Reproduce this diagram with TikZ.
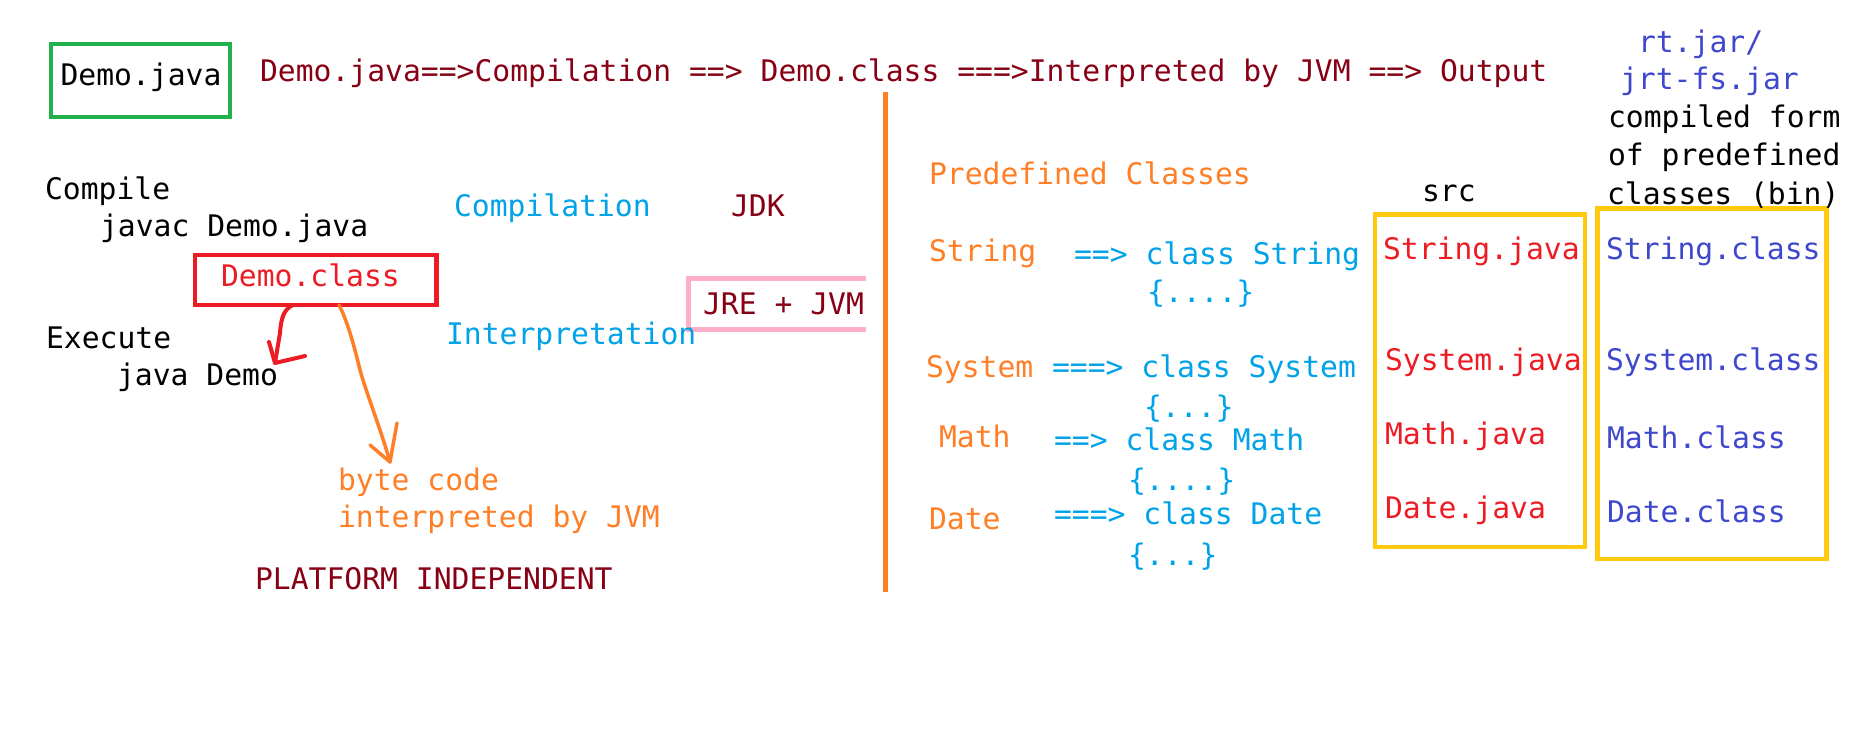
\documentclass[tikz,border=0pt]{standalone}
\usepackage{fontspec}
\setmonofont{DejaVu Sans Mono}
\usetikzlibrary{calc}
\definecolor{dred}{HTML}{880015}
\definecolor{lblue}{HTML}{00A2E8}
\definecolor{porange}{HTML}{FF7F27}
\definecolor{pred}{HTML}{ED1C24}
\definecolor{pviolet}{HTML}{3F48CC}
\definecolor{pgold}{HTML}{FFC90E}
\definecolor{ppink}{HTML}{FFAEC9}
\definecolor{pgreen}{HTML}{22B14C}
\begin{document}
\begin{tikzpicture}[x=1pt,y=-1pt,
  txt/.style={anchor=base west,inner sep=0pt,outer sep=0pt,font=\fontsize{29.7}{37}\selectfont\ttfamily},
  boxnode/.style={draw,inner sep=0pt,outer sep=0pt,line width=4.5pt},
  redpen/.style={draw=pred,line width=4pt,line cap=round,line join=round},
  orgpen/.style={draw=porange,line width=3.5pt,line cap=round,line join=round}]
\useasboundingbox[fill=white] (0,0) rectangle (1852,743);

% boxes
\node[boxnode,draw=pgreen,minimum width=179pt,minimum height=73pt] (djbox) at (140.5,80.5) {};
\node[boxnode,draw=pred,minimum width=241.5pt,minimum height=50pt] (dcbox) at (315.75,280) {};
\node[boxnode,draw=pgold,minimum width=210pt,minimum height=332.5pt] (srcbox) at (1480,380.75) {};
\node[boxnode,draw=pgold,minimum width=229pt,minimum height=350.5pt] (binbox) at (1712,383.75) {};
\draw[draw=ppink,line width=5pt] (866,278.5) -- (688,278.5) -- (688,329) -- (866,329);
\draw[draw=porange,line width=5pt] (885,92) -- (885,592);

% left texts
\node[txt] (t1) at (60.5,86) {Demo.java};
\node[txt,text=dred] (title) at (260,82) {Demo.java==>Compilation ==> Demo.class ===>Interpreted by JVM ==> Output};
\node[txt] (compile) at (45,200) {Compile};
\node[txt] (javac) at (100,237) {javac Demo.java};
\node[txt,text=lblue] (compl) at (454,217) {Compilation};
\node[txt,text=dred] (jdk) at (731,217) {JDK};
\node[txt,text=pred] (dc) at (221,287) {Demo.class};
\node[txt,text=dred] (jre) at (703,315) {JRE + JVM};
\node[txt,text=lblue] (interp) at (446,344) {Interpretation};
\node[txt] (exec) at (46,348) {Execute};
\node[txt] (jdemo) at (117,385) {java Demo};
\node[txt,text=porange] (bc1) at (338,490) {byte code};
\node[txt,text=porange] (bc2) at (338,527) {interpreted by JVM};
\node[txt,text=dred] (plat) at (255,589) {PLATFORM INDEPENDENT};

% arrows
\coordinate (rtip) at (275,363);
\coordinate (otip) at (390,462);
\draw[redpen] ($(dcbox.south west)+(98,0)$) .. controls (284,309) and (281,318) .. (280,333) -- (rtip);
\draw[redpen] (269,342) -- (rtip) -- (305,356);
\draw[orgpen] ($(dcbox.south west)+(144,0)$) .. controls (347,320) and (354,345) .. (360,370)
  .. controls (366,392) and (381,430) .. (otip);
\draw[orgpen] (370,445) -- (otip) -- (397,423);

% right texts
\node[txt,text=pviolet] (rt) at (1638,53) {rt.jar/};
\node[txt,text=pviolet] (jrt) at (1620,90) {jrt-fs.jar};
\node[txt] (cf1) at (1608,128) {compiled form};
\node[txt] (cf2) at (1608,166) {of predefined};
\node[txt] (cf3) at (1607,205) {classes (bin)};
\node[txt,text=porange] (pred) at (929,185) {Predefined Classes};
\node[txt] (src) at (1422,202) {src};

\node[txt,text=porange] (sstr) at (929,262) {String};
\node[txt,text=lblue] (cstr) at (1074,265) {==> class String};
\node[txt,text=lblue] (bstr) at (1147,302) {\{....\}};
\node[txt,text=pred] (jstr) at (1383,260) {String.java};
\node[txt,text=pviolet] (kstr) at (1606,260) {String.class};

\node[txt,text=porange] (ssys) at (926,377) {System};
\node[txt,text=lblue] (csys) at (1052,377) {===> class System};
\node[txt,text=lblue] (bsys) at (1144,417) {\{...\}};
\node[txt,text=pred] (jsys) at (1385,370) {System.java};
\node[txt,text=pviolet] (ksys) at (1606,370) {System.class};

\node[txt,text=porange] (smat) at (939,447) {Math};
\node[txt,text=lblue] (cmat) at (1054,450) {==> class Math};
\node[txt,text=lblue] (bmat) at (1128,490) {\{....\}};
\node[txt,text=pred] (jmat) at (1385,444) {Math.java};
\node[txt,text=pviolet] (kmat) at (1607,448) {Math.class};

\node[txt,text=porange] (sdat) at (929,529) {Date};
\node[txt,text=lblue] (cdat) at (1054,524) {===> class Date};
\node[txt,text=lblue] (bdat) at (1128,565) {\{...\}};
\node[txt,text=pred] (jdat) at (1385,518) {Date.java};
\node[txt,text=pviolet] (kdat) at (1607,522) {Date.class};
\end{tikzpicture}
\end{document}
